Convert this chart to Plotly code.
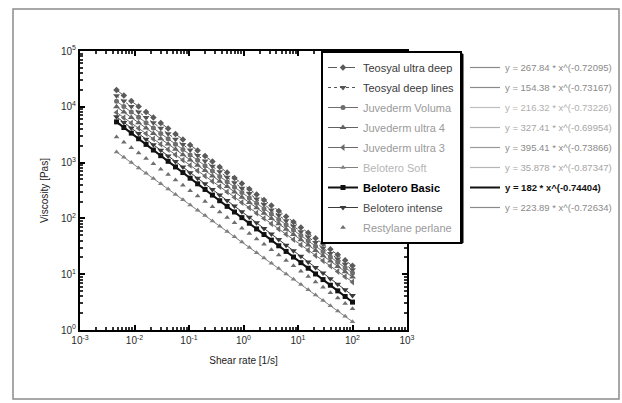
import plotly.graph_objects as go

shear_rate = [0.00468, 0.00638, 0.00873, 0.0119, 0.0163, 0.0222, 0.0303, 0.0414, 0.0565, 0.0773,
              0.105, 0.144, 0.197, 0.269, 0.366, 0.501, 0.684, 0.934, 1.28, 1.74,
              2.38, 3.25, 4.43, 6.05, 8.26, 11.3, 15.4, 21.0, 28.8, 39.3, 53.6, 73.3, 100]

teosyal_ultra_deep = [19950, 15920, 12680, 10120, 8054, 6427, 5117, 4083, 3251, 2594, 2070, 1648, 1315, 1047,
                      835.6, 665.3, 530.9, 423.6, 337.3, 269.2, 214.3, 171.0, 136.1, 108.6, 86.5, 69.0,
                      55.1, 43.9, 35.0, 27.9, 22.2, 17.7, 14.1]
teosyal_deep_lines = [15850, 12660, 10120, 8082, 6457, 5158, 4121, 3292, 2630, 2101, 1679, 1341, 1072,
                      856.1, 683.9, 546.4, 436.5, 348.7, 278.6, 222.6, 177.8, 142.1, 113.5, 90.7, 72.4,
                      57.9, 46.2, 36.9, 29.5, 23.6, 18.8, 15.0, 12.0]
juvederm_volume = [12590, 10090, 8082, 6476, 5188, 4157, 3330, 2668, 2138, 1713, 1372, 1100, 881.0,
                   706.0, 565.5, 453.1, 363.1, 290.9, 233.1, 186.7, 149.6, 119.9, 96.0, 76.9, 61.7,
                   49.4, 39.6, 31.7, 25.4, 20.4, 16.3, 13.1, 10.5]
juvederm_ultra4 = [10000, 8030, 6448, 5178, 4157, 3337, 2680, 2152, 1728, 1388, 1114, 894.5, 718.3,
                   576.7, 463.0, 371.8, 298.5, 239.7, 192.5, 154.6, 124.1, 99.6, 80.0, 64.2, 51.6,
                   41.4, 33.3, 26.7, 21.4, 17.2, 13.8, 11.1, 8.91]
juvederm_ultra3 = [7943, 6383, 5129, 4121, 3311, 2661, 2138, 1718, 1380, 1109, 891.3, 716.1, 575.4,
                   462.4, 371.5, 298.5, 239.9, 192.8, 154.9, 124.5, 100.0, 80.4, 64.6, 51.9, 41.7,
                   33.5, 26.9, 21.6, 17.4, 14.0, 11.2, 9.02, 7.24]
belotero_soft = [1549, 1245, 1000, 803.5, 645.7, 518.8, 416.9, 335.0, 269.2, 216.3, 173.8, 139.6, 112.2,
                 90.2, 72.4, 58.2, 46.8, 37.6, 30.2, 24.3, 19.5, 15.7, 12.6, 10.1, 8.13, 6.53, 5.25,
                 4.22, 3.39, 2.72, 2.19, 1.76, 1.41]
belotero_basic = [5370, 4257, 3374, 2674, 2120, 1680, 1331, 1055, 836.5, 663.0, 525.5, 416.6, 330.2,
                  261.7, 207.4, 164.4, 130.3, 103.3, 81.9, 64.9, 51.4, 40.8, 32.3, 25.6, 20.3, 16.1,
                  12.8, 10.1, 8.01, 6.35, 5.03, 3.99, 3.16]
belotero_intense = [6607, 5248, 4169, 3311, 2630, 2089, 1660, 1318, 1047, 831.8, 660.7, 524.8, 416.9,
                    331.1, 263.0, 208.9, 166.0, 131.8, 104.7, 83.2, 66.1, 52.5, 41.7, 33.1, 26.3, 20.9,
                    16.6, 13.2, 10.5, 8.32, 6.61, 5.25, 4.17]
restylane_perlane = [2884, 2311, 1851, 1483, 1189, 952.3, 762.8, 611.3, 489.8, 392.5, 314.4, 251.9, 201.8,
                     161.7, 129.6, 103.8, 83.2, 66.6, 53.4, 42.8, 34.3, 27.5, 22.0, 17.6, 14.1, 11.3,
                     9.07, 7.26, 5.82, 4.66, 3.74, 2.99, 2.40]

series_names = ["Teosyal ultra deep", "Teosyal deep lines", "Juvederm Voluma", "Juvederm ultra 4",
                "Juvederm ultra 3", "Belotero Soft", "Belotero Basic", "Belotero intense",
                "Restylane perlane"]
series_values = [teosyal_ultra_deep, teosyal_deep_lines, juvederm_volume, juvederm_ultra4,
                 juvederm_ultra3, belotero_soft, belotero_basic, belotero_intense, restylane_perlane]
fit_labels = ["y = 267.84 * x^(-0.72095)", "y = 154.38 * x^(-0.73167)", "y = 216.32 * x^(-0.73226)",
              "y = 327.41 * x^(-0.69954)", "y = 395.41 * x^(-0.73866)", "y = 35.878 * x^(-0.87347)",
              "y = 182 * x^(-0.74404)", "y = 223.89 * x^(-0.72634)"]

x_tickvals = [1e-3, 1e-2, 1e-1, 1, 10, 100, 1000]
x_ticktext = ["10<sup>-3</sup>", "10<sup>-2</sup>", "10<sup>-1</sup>", "10<sup>0</sup>",
              "10<sup>1</sup>", "10<sup>2</sup>", "10<sup>3</sup>"]
y_tickvals = [1, 10, 100, 1000, 1e4, 1e5]
y_ticktext = ["10<sup>0</sup>", "10<sup>1</sup>", "10<sup>2</sup>", "10<sup>3</sup>",
              "10<sup>4</sup>", "10<sup>5</sup>"]

styles = [
    dict(color="#5a5a5a", symbol="diamond", size=5, width=1, dash="dash", text="#3a3a3a", mode="lines+markers"),
    dict(color="#555555", symbol="triangle-down", size=6, width=1, dash="dot", text="#3a3a3a", mode="lines+markers"),
    dict(color="#6e6e6e", symbol="circle", size=5, width=1, dash="solid", text="#9a9a9a", mode="lines+markers"),
    dict(color="#626262", symbol="triangle-up", size=6, width=1, dash="solid", text="#9a9a9a", mode="lines+markers"),
    dict(color="#6a6a6a", symbol="triangle-left", size=6, width=1, dash="solid", text="#9a9a9a", mode="lines+markers"),
    dict(color="#808080", symbol="triangle-up", size=5, width=1, dash="solid", text="#b5b5b5", mode="lines+markers"),
    dict(color="#111111", symbol="square", size=5, width=2, dash="solid", text="#000000", mode="lines+markers"),
    dict(color="#3a3a3a", symbol="triangle-down", size=6, width=1, dash="solid", text="#4a4a4a", mode="lines+markers"),
    dict(color="#6e6e6e", symbol="triangle-up", size=5, width=1, dash="solid", text="#9a9a9a", mode="markers"),
]
fit_colors = ["#8a8a8a", "#8a8a8a", "#bdbdbd", "#b0b0b0", "#9a9a9a", "#b5b5b5", "#111111", "#8a8a8a"]
fit_text = ["#8a8a8a", "#8a8a8a", "#b0b0b0", "#a5a5a5", "#8a8a8a", "#a5a5a5", "#111111", "#8a8a8a"]

fig = go.Figure()
for i, (name, vals, st) in enumerate(zip(series_names, series_values, styles)):
    label = name
    if name == "Belotero Basic":
        label = "<b>" + name + "</b>"
    label = f"<span style='color:{st['text']}'>{label}</span>"
    fig.add_trace(go.Scatter(
        x=shear_rate, y=vals, name=label, mode=st["mode"],
        line=dict(color=st["color"], width=st["width"], dash=st["dash"]),
        marker=dict(symbol=st["symbol"], size=st["size"], color=st["color"]),
        legend="legend", legendgroup=f"g{i}",
    ))

for i, lab in enumerate(fit_labels):
    txt = lab
    if i == 6:
        txt = "<b>" + lab + "</b>"
    fig.add_trace(go.Scatter(
        x=[None], y=[None], mode="lines", name=f"<span style='color:{fit_text[i]}'>{txt}</span>",
        line=dict(color=fit_colors[i], width=2 if i == 6 else 1.2),
        legend="legend2", legendgroup=f"f{i}", hoverinfo="skip",
    ))

L, R, T, B = 80, 215, 51, 73
W, H = 622, 403
pw, ph = W - L - R, H - T - B


def px(xp):
    return (xp - L) / pw


def py(yp):
    return (H - B - yp) / ph


axis_font = dict(family="Liberation Sans, Arial, sans-serif", size=10, color="#2a2a2a")
fig.update_layout(
    width=W, height=H,
    margin=dict(l=L, r=R, t=T, b=B, autoexpand=False),
    paper_bgcolor="white", plot_bgcolor="white",
    font=dict(family="Liberation Sans, Arial, sans-serif", size=10, color="#333"),
    showlegend=True,
    legend=dict(x=px(321), y=py(51), xanchor="left", yanchor="top",
                bgcolor="white", bordercolor="black", borderwidth=2,
                font=dict(size=11), traceorder="grouped", tracegroupgap=1),
    legend2=dict(x=px(463), y=py(51), xanchor="left", yanchor="top",
                 bgcolor="rgba(255,255,255,0)", bordercolor="rgba(255,255,255,0)", borderwidth=2,
                 font=dict(size=9.5), traceorder="grouped", tracegroupgap=1),
    shapes=[
        dict(type="rect", xref="paper", yref="paper", x0=px(13), x1=px(619), y0=py(399), y1=py(9),
             line=dict(color="#8c8c8c", width=1.5), layer="below"),
        dict(type="rect", xref="paper", yref="paper", x0=px(324), x1=px(463), y0=py(243), y1=py(54),
             line=dict(color="black", width=1), fillcolor="black", layer="above"),
    ],
)
fig.update_xaxes(
    type="log", range=[-3, 3], tickvals=x_tickvals, ticktext=x_ticktext,
    showgrid=False, zeroline=False, showline=True, linecolor="black", linewidth=2, mirror="allticks",
    ticks="inside", ticklen=5, tickcolor="black", tickwidth=1.5,
    minor=dict(ticks="inside", ticklen=3, tickcolor="#333", dtick="D1", showgrid=False),
    tickfont=axis_font,
    title=dict(text="Shear rate [1/s]", font=dict(size=10, color="#222"), standoff=12),
)
fig.update_yaxes(
    type="log", range=[0, 5], tickvals=y_tickvals, ticktext=y_ticktext,
    showgrid=False, zeroline=False, showline=True, linecolor="black", linewidth=2, mirror="allticks",
    ticks="inside", ticklen=5, tickcolor="black", tickwidth=1.5,
    minor=dict(ticks="inside", ticklen=3, tickcolor="#333", dtick="D1", showgrid=False),
    tickfont=axis_font,
    title=dict(text="Viscosity [Pas]", font=dict(size=10, color="#222"), standoff=10),
)

fig.write_html("out.html")
